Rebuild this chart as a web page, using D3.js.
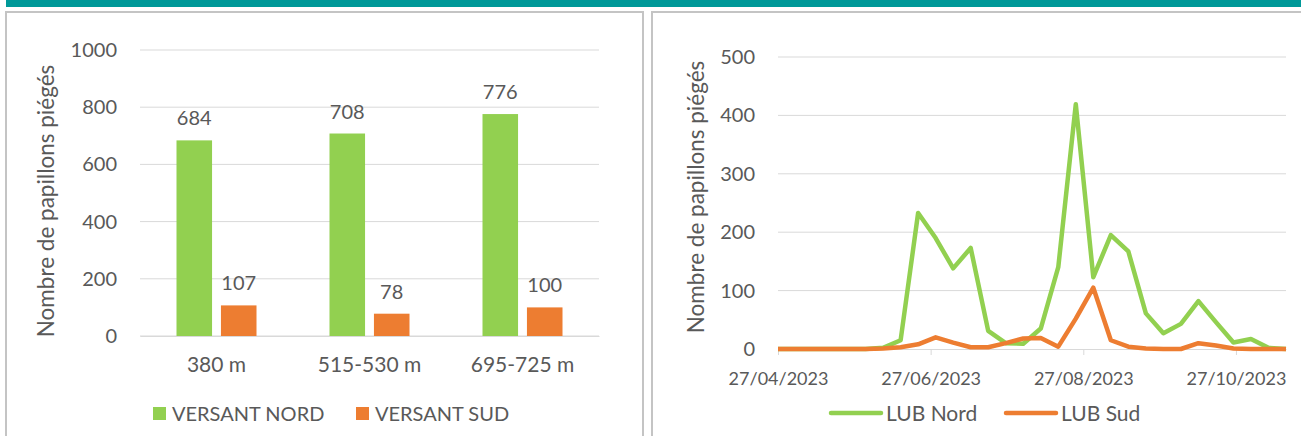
<!DOCTYPE html>
<html>
<head>
<meta charset="utf-8">
<script src="https://cdn.jsdelivr.net/npm/d3@7"></script>
<style>
  body { margin: 0; background: #fff; }
  text { font-family: Lato, 'Open Sans', sans-serif; fill: #595959; }
</style>
</head>
<body>
<div id="chart"></div>
<script>
// Bar chart data (left)
const altitudes = ['380 m', '515-530 m', '695-725 m'];
const versantNord = [684, 708, 776];
const versantSud = [107, 78, 100];
const barTicks = [0, 200, 400, 600, 800, 1000];

// Line chart data (right), weekly trap readings
const releveDates = [
  '27/04/2023', '04/05/2023', '11/05/2023', '18/05/2023', '25/05/2023',
  '01/06/2023', '08/06/2023', '15/06/2023', '22/06/2023', '29/06/2023',
  '06/07/2023', '13/07/2023', '20/07/2023', '27/07/2023', '03/08/2023',
  '10/08/2023', '17/08/2023', '24/08/2023', '31/08/2023', '07/09/2023',
  '14/09/2023', '21/09/2023', '28/09/2023', '05/10/2023', '12/10/2023',
  '19/10/2023', '26/10/2023', '02/11/2023', '09/11/2023', '16/11/2023'
];
const lubNord = [0, 0, 0, 0, 0, 0, 2, 15, 233, 190, 138, 173, 31, 10, 9,
  35, 140, 419, 123, 195, 167, 61, 27, 43, 82, 46, 11, 17, 2, 0];
const lubSud = [0, 0, 0, 0, 0, 0, 1, 3, 8, 20, 11, 3, 3, 10, 18,
  19, 4, 52, 105, 15, 4, 1, 0, 0, 10, 6, 1, 0, 0, 0];
const lineTicks = [0, 100, 200, 300, 400, 500];
const dateTicks = ['27/04/2023', '27/06/2023', '27/08/2023', '27/10/2023'];

const GREEN = '#92d050';
const ORANGE = '#ed7d31';
const GRID = '#d9d9d9';
const TEXT = '#595959';

const svg = d3
  .select('#chart')
  .append('svg')
  .attr('width', 1301)
  .attr('height', 436);

// Header band and panel frames
svg.append('rect')
  .attr('x', 6).attr('y', 0)
  .attr('width', 1295).attr('height', 7)
  .attr('fill', '#009999');

[[6, 643], [652, 1305]].forEach(([x0, x1]) => {
  svg.append('rect')
    .attr('x', x0).attr('y', 12)
    .attr('width', x1 - x0).attr('height', 440)
    .attr('fill', 'none')
    .attr('stroke', '#c4c4c4')
    .attr('stroke-width', 2);
});

// ---------- Left: bar chart ----------
function drawBars() {
  const g = svg.append('g');
  const x = d3.scaleBand().domain(altitudes).range([140, 599]);
  const y = d3.scaleLinear().domain([0, 1000]).range([336, 50]);
  const series = [
    { key: 'VERSANT NORD', values: versantNord, color: GREEN },
    { key: 'VERSANT SUD', values: versantSud, color: ORANGE }
  ];
  const xs = d3.scaleBand()
    .domain(series.map((s) => s.key))
    .range([-40, 40])
    .paddingInner(0.2);

  // Gridlines
  g.selectAll('.grid')
    .data(barTicks)
    .enter()
    .append('line')
    .attr('x1', 140).attr('x2', 599)
    .attr('y1', (d) => y(d)).attr('y2', (d) => y(d))
    .attr('stroke', GRID)
    .attr('stroke-width', 1);

  // Y axis labels
  const yAxis = g.append('g')
    .attr('transform', 'translate(125,0)')
    .call(d3.axisLeft(y).tickValues(barTicks).tickFormat(d3.format('d')).tickSize(0).tickPadding(8));
  yAxis.select('.domain').remove();
  yAxis.selectAll('text').style('font-size', '20px').attr('fill', TEXT);

  // Bars + value labels
  series.forEach((s, si) => {
    const left = (i) => x(altitudes[i]) + x.bandwidth() / 2 + xs(s.key);
    g.selectAll('.bar' + si)
      .data(s.values)
      .enter()
      .append('rect')
      .attr('class', 'bar' + si)
      .attr('x', (d, i) => left(i))
      .attr('y', (d) => y(d))
      .attr('width', xs.bandwidth())
      .attr('height', (d) => y(0) - y(d))
      .attr('fill', s.color);

    g.selectAll('.lbl' + si)
      .data(s.values)
      .enter()
      .append('text')
      .attr('class', 'lbl' + si)
      .attr('x', (d, i) => left(i) + xs.bandwidth() / 2)
      .attr('y', (d) => y(d) - 15)
      .attr('text-anchor', 'middle')
      .style('font-size', '20px')
      .text((d) => d);
  });

  // Category axis
  const xAxis = g.append('g')
    .attr('transform', 'translate(0,336)')
    .call(d3.axisBottom(x).tickSize(0).tickPadding(21));
  xAxis.select('.domain').attr('stroke', GRID);
  xAxis.selectAll('text').style('font-size', '21px').attr('fill', TEXT);

  // Axis title
  g.append('text')
    .attr('transform', 'translate(54,201) rotate(-90)')
    .attr('text-anchor', 'middle')
    .style('font-size', '22.5px')
    .text('Nombre de papillons piégés');

  // Legend
  const lx = [153, 356];
  series.forEach((s, i) => {
    g.append('rect')
      .attr('x', lx[i]).attr('y', 407)
      .attr('width', 13).attr('height', 13)
      .attr('fill', s.color);
    g.append('text')
      .attr('x', lx[i] + 19).attr('y', 421)
      .style('font-size', '20px')
      .text(s.key);
  });
}

// ---------- Right: line chart ----------
function drawLines() {
  const g = svg.append('g');
  const parseDate = d3.timeParse('%d/%m/%Y');
  const dates = releveDates.map(parseDate);
  const x = d3.scaleTime().domain(d3.extent(dates)).range([778, 1286]);
  const y = d3.scaleLinear().domain([0, 500]).range([349, 57]);

  g.selectAll('.grid')
    .data(lineTicks.slice(1))
    .enter()
    .append('line')
    .attr('x1', 778).attr('x2', 1286)
    .attr('y1', (d) => y(d)).attr('y2', (d) => y(d))
    .attr('stroke', GRID)
    .attr('stroke-width', 1);

  const yAxis = g.append('g')
    .attr('transform', 'translate(763,0)')
    .call(d3.axisLeft(y).tickValues(lineTicks).tickSize(0).tickPadding(8));
  yAxis.select('.domain').remove();
  yAxis.selectAll('text').style('font-size', '20px').attr('fill', TEXT);

  const xAxis = g.append('g')
    .attr('transform', 'translate(0,349)')
    .call(
      d3.axisBottom(x)
        .tickValues(dateTicks.map(parseDate))
        .tickFormat(d3.timeFormat('%d/%m/%Y'))
        .tickSizeInner(6)
        .tickSizeOuter(0)
        .tickPadding(17)
    );
  xAxis.select('.domain').attr('stroke', GRID);
  xAxis.selectAll('line').attr('stroke', GRID);
  xAxis.selectAll('text').style('font-size', '18px').attr('fill', TEXT);

  const line = d3.line()
    .x((d) => x(d.date))
    .y((d) => y(d.value));

  const series = [
    { key: 'LUB Nord', values: lubNord, color: GREEN },
    { key: 'LUB Sud', values: lubSud, color: ORANGE }
  ];
  series.forEach((s) => {
    g.append('path')
      .datum(s.values.map((v, i) => ({ date: dates[i], value: v })))
      .attr('fill', 'none')
      .attr('stroke', s.color)
      .attr('stroke-width', 4.5)
      .attr('stroke-linejoin', 'round')
      .attr('d', line);
  });

  g.append('text')
    .attr('transform', 'translate(704,197) rotate(-90)')
    .attr('text-anchor', 'middle')
    .style('font-size', '22.5px')
    .text('Nombre de papillons piégés');

  // Legend
  const lx = [831, 1006];
  series.forEach((s, i) => {
    g.append('line')
      .attr('x1', lx[i]).attr('x2', lx[i] + 50)
      .attr('y1', 413).attr('y2', 413)
      .attr('stroke', s.color)
      .attr('stroke-width', 4.5)
      .attr('stroke-linecap', 'round');
    g.append('text')
      .attr('x', lx[i] + 55).attr('y', 421)
      .style('font-size', '21px')
      .text(s.key);
  });
}

drawBars();
drawLines();
</script>
</body>
</html>
